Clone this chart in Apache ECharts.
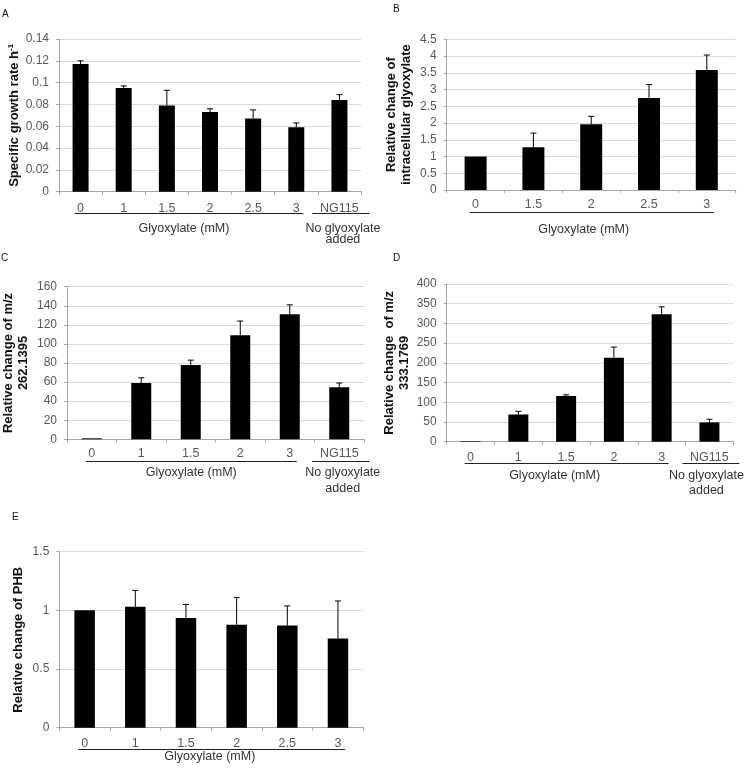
<!DOCTYPE html>
<html>
<head>
<meta charset="utf-8">
<script src="https://cdn.jsdelivr.net/npm/echarts@6/dist/echarts.min.js"></script>
<style>
html,body{margin:0;padding:0;background:#fff;}
#c{width:745px;height:773px;}
</style>
</head>
<body>
<div id="c"></div>
<script>
// ---- Data ----
const catsA = ['0', '1', '1.5', '2', '2.5', '3', 'NG115'];
const valsA = [0.117, 0.095, 0.079, 0.073, 0.067, 0.059, 0.084];
const errsA = [0.003, 0.002, 0.014, 0.003, 0.008, 0.004, 0.005];

const catsB = ['0', '1.5', '2', '2.5', '3'];
const valsB = [1.0, 1.28, 1.96, 2.75, 3.58];
const errsB = [0, 0.42, 0.24, 0.40, 0.45];

const catsC = ['0', '1', '1.5', '2', '3', 'NG115'];
const valsC = [1, 59, 78, 109, 131, 54.5];
const errsC = [0, 5.5, 5, 15, 10, 4.5];

const catsD = ['0', '1', '1.5', '2', '3', 'NG115'];
const valsD = [1.5, 69, 116, 213, 323, 49];
const errsD = [0, 8, 3, 27, 19, 8];

const catsE = ['0', '1', '1.5', '2', '2.5', '3'];
const valsE = [1.0, 1.03, 0.935, 0.877, 0.87, 0.76];
const errsE = [0, 0.14, 0.115, 0.233, 0.168, 0.32];

const groupsA = [{from: 0, to: 5, text: 'Glyoxylate (mM)'}, {from: 6, to: 6, text: 'No glyoxylate\nadded'}];
const groupsB = [{from: 0, to: 4, text: 'Glyoxylate (mM)'}];
const groupsC = [{from: 0, to: 4, text: 'Glyoxylate (mM)'}, {from: 5, to: 5, text: 'No glyoxylate\nadded'}];
const groupsD = [{from: 0, to: 4, text: 'Glyoxylate (mM)'}, {from: 5, to: 5, text: 'No glyoxylate\nadded'}];
const groupsE = [{from: 0, to: 5, text: 'Glyoxylate (mM)'}];

const nameA = 'Specific growth rate h{sup|-1}';
const nameB = 'Relative change of\nintracellular glyoxylate';
const nameC = 'Relative change of m/z\n262.1395';
const nameD = 'Relative change  of m/z\n333.1769';
const nameE = 'Relative change of PHB';

// ---- Layout ----
const panels = [
  {letter: 'A', cats: catsA, vals: valsA, errs: errsA, groups: groupsA, name: nameA,
   min: 0, max: 0.14, interval: 0.02, dec: 2,
   grid: {left: 59, top: 39, width: 302, height: 152.7}, barWidth: 16, nameGap: 36,
   catMargin: 10, groupDy: 37, groupLH: 11, groupShift: -5, singleShift: 2, letterPos: [2, 9]},
  {letter: 'B', cats: catsB, vals: valsB, errs: errsB, groups: groupsB, name: nameB,
   min: 0, max: 4.5, interval: 0.5, dec: 1,
   grid: {left: 446.7, top: 39.3, width: 289, height: 150.7}, barWidth: 22, nameGap: 33,
   catMargin: 8, groupDy: 40, groupLH: 12, groupShift: -8, singleShift: 0, letterPos: [393, 4]},
  {letter: 'C', cats: catsC, vals: valsC, errs: errsC, groups: groupsC, name: nameC,
   min: 0, max: 160, interval: 20, dec: 0,
   grid: {left: 60, top: 286.7, width: 304, height: 152.6}, barWidth: 20, nameGap: 36,
   catMargin: 8, groupDy: 33, groupLH: 16, groupShift: 0, singleShift: 2, letterPos: [1, 253]},
  {letter: 'D', cats: catsD, vals: valsD, errs: errsD, groups: groupsD, name: nameD,
   min: 0, max: 400, interval: 50, dec: 0,
   grid: {left: 446.7, top: 284, width: 286.6, height: 157.7}, barWidth: 20, nameGap: 35,
   catMargin: 9, groupDy: 34, groupLH: 15, groupShift: -12, singleShift: -4.5, letterPos: [393, 253]},
  {letter: 'E', cats: catsE, vals: valsE, errs: errsE, groups: groupsE, name: nameE,
   min: 0, max: 1.5, interval: 0.5, dec: 1,
   grid: {left: 59.3, top: 551.7, width: 304, height: 176}, barWidth: 20.5, nameGap: 33,
   catMargin: 9, groupDy: 29, groupLH: 12, groupShift: -2, singleShift: 0, letterPos: [12, 512]}
];

const FONT = '"Liberation Sans", Arial, sans-serif';
const chart = echarts.init(document.getElementById('c'));

const option = {
  animation: false,
  backgroundColor: '#fff',
  textStyle: {fontFamily: FONT},
  grid: [], xAxis: [], yAxis: [], series: []
};

panels.forEach((p, i) => {
  option.grid.push(Object.assign({containLabel: false}, p.grid));
  option.xAxis.push({
    type: 'category', gridIndex: i, data: p.cats,
    axisLine: {lineStyle: {color: '#a6a6a6', width: 1}},
    axisTick: {show: true, length: 3, alignWithLabel: false, lineStyle: {color: '#a6a6a6'}},
    axisLabel: {color: '#595959', fontSize: 12.5, margin: p.catMargin, fontFamily: FONT, interval: 0},
    splitLine: {show: false}
  });
  option.yAxis.push({
    type: 'value', gridIndex: i, min: p.min, max: p.max, interval: p.interval,
    name: p.name, nameLocation: 'middle', nameGap: p.nameGap,
    nameTextStyle: {color: '#111', fontSize: 13, fontWeight: 'bold', fontFamily: FONT, lineHeight: 15,
      rich: {sup: {fontSize: 8, fontWeight: 'bold', color: '#111', verticalAlign: 'top', lineHeight: 9, fontFamily: FONT}}},
    axisLine: {show: true, lineStyle: {color: '#a6a6a6', width: 1}},
    axisTick: {show: true, length: 3, lineStyle: {color: '#a6a6a6'}},
    axisLabel: {color: '#595959', fontSize: 12, margin: 10, fontFamily: FONT,
      formatter: v => String(+(+v).toFixed(p.dec))},
    splitLine: {show: true, lineStyle: {color: '#d9d9d9', width: 1}}
  });
  option.series.push({
    type: 'bar', xAxisIndex: i, yAxisIndex: i, data: p.vals,
    barWidth: p.barWidth, itemStyle: {color: '#000'}, silent: true
  });
  option.series.push({
    type: 'custom', xAxisIndex: i, yAxisIndex: i, z: 5, silent: true,
    data: p.vals.map((v, k) => [k, v, p.errs[k]]),
    renderItem: function (params, api) {
      const e = api.value(2);
      if (!e) return null;
      const x = api.value(0), v = api.value(1);
      const b = api.coord([x, v]);
      const t = api.coord([x, v + e]);
      return {type: 'group', children: [
        {type: 'line', shape: {x1: b[0], y1: b[1], x2: t[0], y2: t[1]}, style: {stroke: '#000', lineWidth: 1}},
        {type: 'line', shape: {x1: t[0] - 3, y1: t[1], x2: t[0] + 3, y2: t[1]}, style: {stroke: '#000', lineWidth: 1}}
      ]};
    }
  });
});

chart.setOption(option);

// ---- Decorations computed from axes ----
const graphics = [];
panels.forEach((p, i) => {
  graphics.push({type: 'text', left: p.letterPos[0], top: p.letterPos[1],
    style: {text: p.letter, fontSize: 10, fontFamily: FONT, fill: '#111'}});
  const y0 = chart.convertToPixel({yAxisIndex: i}, 0);
  p.groups.forEach(g => {
    const xa = chart.convertToPixel({xAxisIndex: i}, g.from);
    const xb = chart.convertToPixel({xAxisIndex: i}, g.to);
    const single = g.from === g.to;
    const x1 = single ? xa - 27 : xa - 6;
    const x2 = single ? xb + 30 : xb + 7;
    const ly = Math.round(y0 + 21.5) + 0.5;
    graphics.push({type: 'line', shape: {x1: x1, y1: ly, x2: x2, y2: ly}, style: {stroke: '#222', lineWidth: 1}, silent: true});
    graphics.push({type: 'text', x: (x1 + x2) / 2 + (single ? p.singleShift : p.groupShift), y: y0 + p.groupDy - p.groupLH / 2,
      style: {text: g.text, fontSize: 12.5, fontFamily: FONT, fill: '#333', align: 'center', verticalAlign: 'top', lineHeight: p.groupLH}});
  });
});
chart.setOption({graphic: graphics});
</script>
</body>
</html>
